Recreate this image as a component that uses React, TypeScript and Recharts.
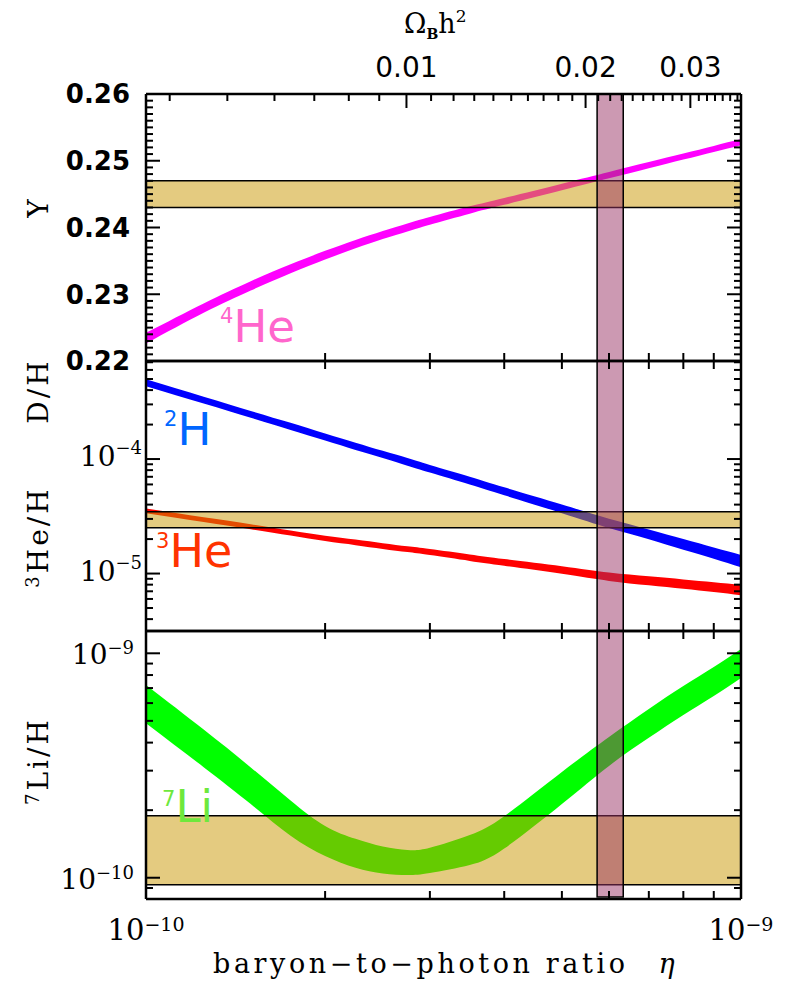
import React from "react";
import { ComposedChart, Area, Line, XAxis, YAxis, ReferenceArea } from "recharts";

// baryon-to-photon ratio in units of 1e-10
const eta10 = [1, 1.25, 1.5, 1.75, 2, 2.25, 2.5, 2.75, 3, 3.5, 4, 5, 6, 7, 8, 9, 10];

// predicted abundance bands (lower / upper edge)
const heLo = [0.22262, 0.22723, 0.23056, 0.23314, 0.2352, 0.23688, 0.23826, 0.23941, 0.24042, 0.24207, 0.24339, 0.24557, 0.24736, 0.24887, 0.25017, 0.25132, 0.25234];
const heHi = [0.22422, 0.22863, 0.23196, 0.2345, 0.2365, 0.23812, 0.23946, 0.24061, 0.24158, 0.24317, 0.24443, 0.24657, 0.24832, 0.24981, 0.25109, 0.25222, 0.25324];
const dLo = [4.33e-4, 3.05e-4, 2.29e-4, 1.79e-4, 1.45e-4, 1.2e-4, 1.02e-4, 8.74e-5, 7.62e-5, 5.98e-5, 4.82e-5, 3.37e-5, 2.5e-5, 1.99e-5, 1.61e-5, 1.35e-5, 1.135e-5];
const dHi = [4.97e-4, 3.5e-4, 2.63e-4, 2.07e-4, 1.67e-4, 1.39e-4, 1.18e-4, 1.02e-4, 8.87e-5, 7.0e-5, 5.66e-5, 4.01e-5, 3.01e-5, 2.43e-5, 2.0e-5, 1.69e-5, 1.455e-5];
const he3Lo = [3.37e-5, 2.82e-5, 2.44e-5, 2.15e-5, 1.92e-5, 1.77e-5, 1.64e-5, 1.54e-5, 1.45e-5, 1.29e-5, 1.17e-5, 9.95e-6, 8.63e-6, 7.91e-6, 7.36e-6, 6.9e-6, 6.47e-6];
const he3Hi = [3.7e-5, 3.1e-5, 2.7e-5, 2.38e-5, 2.14e-5, 1.98e-5, 1.84e-5, 1.73e-5, 1.64e-5, 1.47e-5, 1.34e-5, 1.16e-5, 1.02e-5, 9.46e-6, 8.89e-6, 8.41e-6, 7.96e-6];
const liLo = [4.88e-10, 3.11e-10, 2.13e-10, 1.54e-10, 1.25e-10, 1.108e-10, 1.045e-10, 1.028e-10, 1.05e-10, 1.14e-10, 1.35e-10, 2.13e-10, 3.15e-10, 4.2e-10, 5.31e-10, 6.45e-10, 7.76e-10];
const liHi = [7.22e-10, 4.57e-10, 3.1e-10, 2.21e-10, 1.7e-10, 1.49e-10, 1.377e-10, 1.33e-10, 1.36e-10, 1.55e-10, 1.88e-10, 2.96e-10, 4.24e-10, 5.65e-10, 7.15e-10, 8.69e-10, 1.045e-9];

// observed ranges
const heObs = [0.243, 0.247];
const dObs = [2.51e-5, 3.46e-5];
const liObs = [9.3e-11, 1.89e-10];
const cmbEta = [5.73, 6.34];

// axes
const etaTicks = [1, 2, 3, 4, 5, 6, 7, 8, 9, 10];
const etaLabels = [1, 10];
const yMajor = [0.22, 0.23, 0.24, 0.25, 0.26];
const omegaLabels = [0.01, 0.02, 0.03];
const ETA_PER_OMEGA = 274; // eta10 = 274 * Omega_B h^2

const W = 785;
const H = 985;
const ink = "#000";

const yMinor: number[] = [];
for (let i = 220; i <= 260; i++) yMinor.push(i / 1000);
const omegaTicks: number[] = [];
for (let i = 4; i <= 36; i++) omegaTicks.push(i / 1000);
const omegaAsEta = omegaTicks.map((o) => o * ETA_PER_OMEGA);

function logTicks(lo: number, hi: number) {
  const out: number[] = [];
  for (let e = Math.floor(Math.log10(lo)); e <= Math.ceil(Math.log10(hi)); e++) {
    for (let m = 1; m <= 9; m++) {
      const v = m * Math.pow(10, e);
      if (v >= lo && v <= hi) out.push(v);
    }
  }
  return out;
}
const isDecade = (v: number) => Math.abs(Math.log10(v) - Math.round(Math.log10(v))) < 1e-6;
const isHundredth = (v: number) => Math.round(v * 1000) % 10 === 0;

const sans = "DejaVu Sans";
const serif = "DejaVu Serif";

function Pow({ x, y, exp, size, sup, anchor, rise }: any) {
  return (
    <text x={x} y={y} textAnchor={anchor} fontFamily={serif} fontSize={size} fill={ink}>
      10
      <tspan dy={-rise} fontSize={sup}>
        {"\u2212" + Math.abs(exp)}
      </tspan>
    </text>
  );
}

const rows = eta10.map((e, i) => ({
  eta: e,
  he: [heLo[i], heHi[i]],
  d: [dLo[i], dHi[i]],
  he3: [he3Lo[i], he3Hi[i]],
  li: [liLo[i], liHi[i]],
}));

type PanelProps = {
  top: number;
  bottom: number;
  domain: [number, number];
  log: boolean;
  ticks: number[];
  major: (v: number) => boolean;
  yLabel: (v: number, x: number, y: number) => React.ReactNode;
  omegaAxis?: boolean;
  etaLabelsOn?: boolean;
  children: React.ReactNode;
};

function Panel({ top, bottom, domain, log, ticks, major, yLabel, omegaAxis, etaLabelsOn, children }: PanelProps) {
  const leftTick = (p: any) => {
    const v = p.payload.value;
    const big = major(v);
    return (
      <g>
        <line x1={p.x} x2={p.x + (big ? 14 : 7)} y1={p.y} y2={p.y} stroke={ink} strokeWidth={2} />
        {big && yLabel(v, p.x, p.y)}
      </g>
    );
  };
  const rightTick = (p: any) => {
    const big = major(p.payload.value);
    return <line x1={p.x} x2={p.x - (big ? 14 : 7)} y1={p.y} y2={p.y} stroke={ink} strokeWidth={2} />;
  };
  const bottomTick = (p: any) => {
    const v = p.payload.value;
    return (
      <g>
        <line x1={p.x} x2={p.x} y1={p.y} y2={p.y - 8} stroke={ink} strokeWidth={2} />
        {etaLabelsOn && etaLabels.includes(v) && (
          <Pow x={p.x} y={p.y + 41} exp={v === 1 ? -10 : -9} size={29} sup={19} anchor="middle" rise={9} />
        )}
      </g>
    );
  };
  const topTick = (p: any) => {
    const v = p.payload.value;
    if (!omegaAxis) return <line x1={p.x} x2={p.x} y1={p.y} y2={p.y + 8} stroke={ink} strokeWidth={2} />;
    const om = v / ETA_PER_OMEGA;
    const big = omegaLabels.some((o) => Math.abs(o - om) < 1e-6);
    return (
      <g>
        <line x1={p.x} x2={p.x} y1={p.y} y2={p.y + (big ? 14 : 7)} stroke={ink} strokeWidth={2} />
        {big && (
          <text x={p.x} y={p.y - 17} textAnchor="middle" fontFamily={sans} fontSize={28} fill={ink}>
            {om.toFixed(2)}
          </text>
        )}
      </g>
    );
  };
  const axisLine = { stroke: ink, strokeWidth: 2.5 };
  const yScale = log ? "log" : "linear";
  // axes are 1px thick so they render; margins compensate so the plot box is exact
  return (
    <div style={{ position: "absolute", left: 0, top: 0 }}>
      <ComposedChart width={W} height={H} data={rows} margin={{ top: top - 1, right: W - 741 - 1, bottom: H - bottom - 1, left: 145 }}>
        <XAxis xAxisId="b" dataKey="eta" type="number" scale="log" domain={[1, 10]} allowDataOverflow ticks={etaTicks}
          interval={0} height={1} tickSize={0} tickMargin={0} tickLine={false} axisLine={axisLine} tick={bottomTick} />
        <XAxis xAxisId="t" dataKey="eta" orientation="top" type="number" scale="log" domain={[1, 10]} allowDataOverflow
          ticks={omegaAxis ? omegaAsEta : etaTicks} interval={0} height={1} tickSize={0} tickMargin={0} tickLine={false}
          axisLine={axisLine} tick={topTick} />
        <YAxis yAxisId="l" type="number" scale={yScale} domain={domain} allowDataOverflow ticks={ticks} interval={0}
          width={1} tickSize={0} tickMargin={0} tickLine={false} axisLine={axisLine} tick={leftTick} />
        <YAxis yAxisId="r" orientation="right" type="number" scale={yScale} domain={domain} allowDataOverflow ticks={ticks}
          interval={0} width={1} tickSize={0} tickMargin={0} tickLine={false} axisLine={axisLine} tick={rightTick} />
        {children}
        <Line xAxisId="t" yAxisId="r" dataKey={() => null} stroke="none" dot={false} activeDot={false}
          isAnimationActive={false} legendType="none" />
      </ComposedChart>
    </div>
  );
}

function band(key: string, color: string) {
  return (
    <Area key={key} xAxisId="b" yAxisId="l" dataKey={key} type="natural" stroke="none" fill={color} fillOpacity={1}
      dot={false} activeDot={false} isAnimationActive={false} />
  );
}

function obs(lo: number, hi: number) {
  return (
    <ReferenceArea key="obs" xAxisId="b" yAxisId="l" y1={lo} y2={hi} fill="#c99701" fillOpacity={0.5}
      stroke={ink} strokeWidth={1.5} zIndex={150} />
  );
}

function cmb(lo: number, hi: number) {
  return (
    <ReferenceArea key="cmb" xAxisId="b" yAxisId="l" x1={cmbEta[0]} x2={cmbEta[1]} y1={lo} y2={hi} fill="#993366"
      fillOpacity={0.5} stroke={ink} strokeWidth={1.5} zIndex={160} />
  );
}

export default function App() {
  const yDomain: [number, number] = [0.22, 0.26];
  const dDomain: [number, number] = [3.15e-6, 7.18e-4];
  const liDomain: [number, number] = [8.04e-11, 1.257e-9];
  return (
    <div style={{ position: "absolute", left: 0, top: 0, width: W, height: H, background: "#fff" }}>
      <Panel top={94} bottom={361} domain={yDomain} log={false} ticks={yMinor} major={isHundredth} omegaAxis
        yLabel={(v, x, y) => (
          <text x={x - 16} y={y} dy="0.36em" textAnchor="end" fontFamily={sans} fontWeight="bold" fontSize={26} fill={ink}>
            {yMajor.find((m) => Math.abs(m - v) < 1e-9)?.toFixed(2)}
          </text>
        )}>
        {band("he", "#ff00ff")}
        {obs(heObs[0], heObs[1])}
        {cmb(yDomain[0], yDomain[1])}
      </Panel>
      <Panel top={361} bottom={631} domain={dDomain} log ticks={logTicks(dDomain[0], dDomain[1])} major={isDecade}
        yLabel={(v, x, y) => <Pow x={x - 4} y={y + 7} exp={Math.round(Math.log10(v))} size={28} sup={18} anchor="end" rise={12} />}>
        {band("d", "#0000ff")}
        {band("he3", "#ff0000")}
        {obs(dObs[0], dObs[1])}
        {cmb(dDomain[0], dDomain[1])}
      </Panel>
      <Panel top={631} bottom={899} domain={liDomain} log ticks={logTicks(liDomain[0], liDomain[1])} major={isDecade} etaLabelsOn
        yLabel={(v, x, y) => <Pow x={x - 12} y={y + 11} exp={Math.round(Math.log10(v))} size={28} sup={18} anchor="end" rise={10} />}>
        {band("li", "#00ff00")}
        {obs(liObs[0], liObs[1])}
        {cmb(8.2e-11, liDomain[1])}
      </Panel>

      <svg width={W} height={H} style={{ position: "absolute", left: 0, top: 0, pointerEvents: "none" }}>
        <text x={404} y={33} fontFamily={serif} fontSize={27} fill={ink}>
          Ω<tspan fontSize={14} fontWeight="bold" dy={6}>B</tspan>
          <tspan dy={-6}>h</tspan>
          <tspan fontSize={17} dy={-11}>2</tspan>
        </text>

        <g fontFamily={serif} fontSize={28} fill={ink} letterSpacing={3}>
          <text x={38} y={207} textAnchor="middle" dominantBaseline="central" transform="rotate(-90 38 207)">Y</text>
          <text x={38} y={391} textAnchor="middle" dominantBaseline="central" transform="rotate(-90 38 391)">D/H</text>
          <text x={38} y={537} textAnchor="middle" dominantBaseline="central" transform="rotate(-90 38 537)">
            <tspan fontSize={18} dy={-6}>3</tspan>
            <tspan dy={6}>He/H</tspan>
          </text>
          <text x={38} y={761} textAnchor="middle" dominantBaseline="central" transform="rotate(-90 38 761)">
            <tspan fontSize={18} dy={-6}>7</tspan>
            <tspan dy={6}>Li/H</tspan>
          </text>
        </g>
        <text x={213} y={973} fontFamily={serif} fontSize={27} fill={ink} letterSpacing={3.6}>
          baryon{"\u2212"}to{"\u2212"}photon ratio
          <tspan dx={30} fontStyle="italic">η</tspan>
        </text>

        <g fontFamily={sans}>
          <text x={220} y={342} fill="#ff66cc" fontSize={45}>
            <tspan fontSize={21} dy={-19}>4</tspan>
            <tspan dy={19}>He</tspan>
          </text>
          <text x={164} y={445} fill="#0066ff" fontSize={45}>
            <tspan fontSize={21} dy={-19}>2</tspan>
            <tspan dy={19}>H</tspan>
          </text>
          <text x={156} y={567} fill="#ff3300" fontSize={46}>
            <tspan fontSize={21} dy={-19}>3</tspan>
            <tspan dy={19}>He</tspan>
          </text>
          <text x={162} y={822} fill="#6ee83c" fontSize={45}>
            <tspan fontSize={21} dy={-16}>7</tspan>
            <tspan dy={16}>Li</tspan>
          </text>
        </g>
      </svg>
    </div>
  );
}
